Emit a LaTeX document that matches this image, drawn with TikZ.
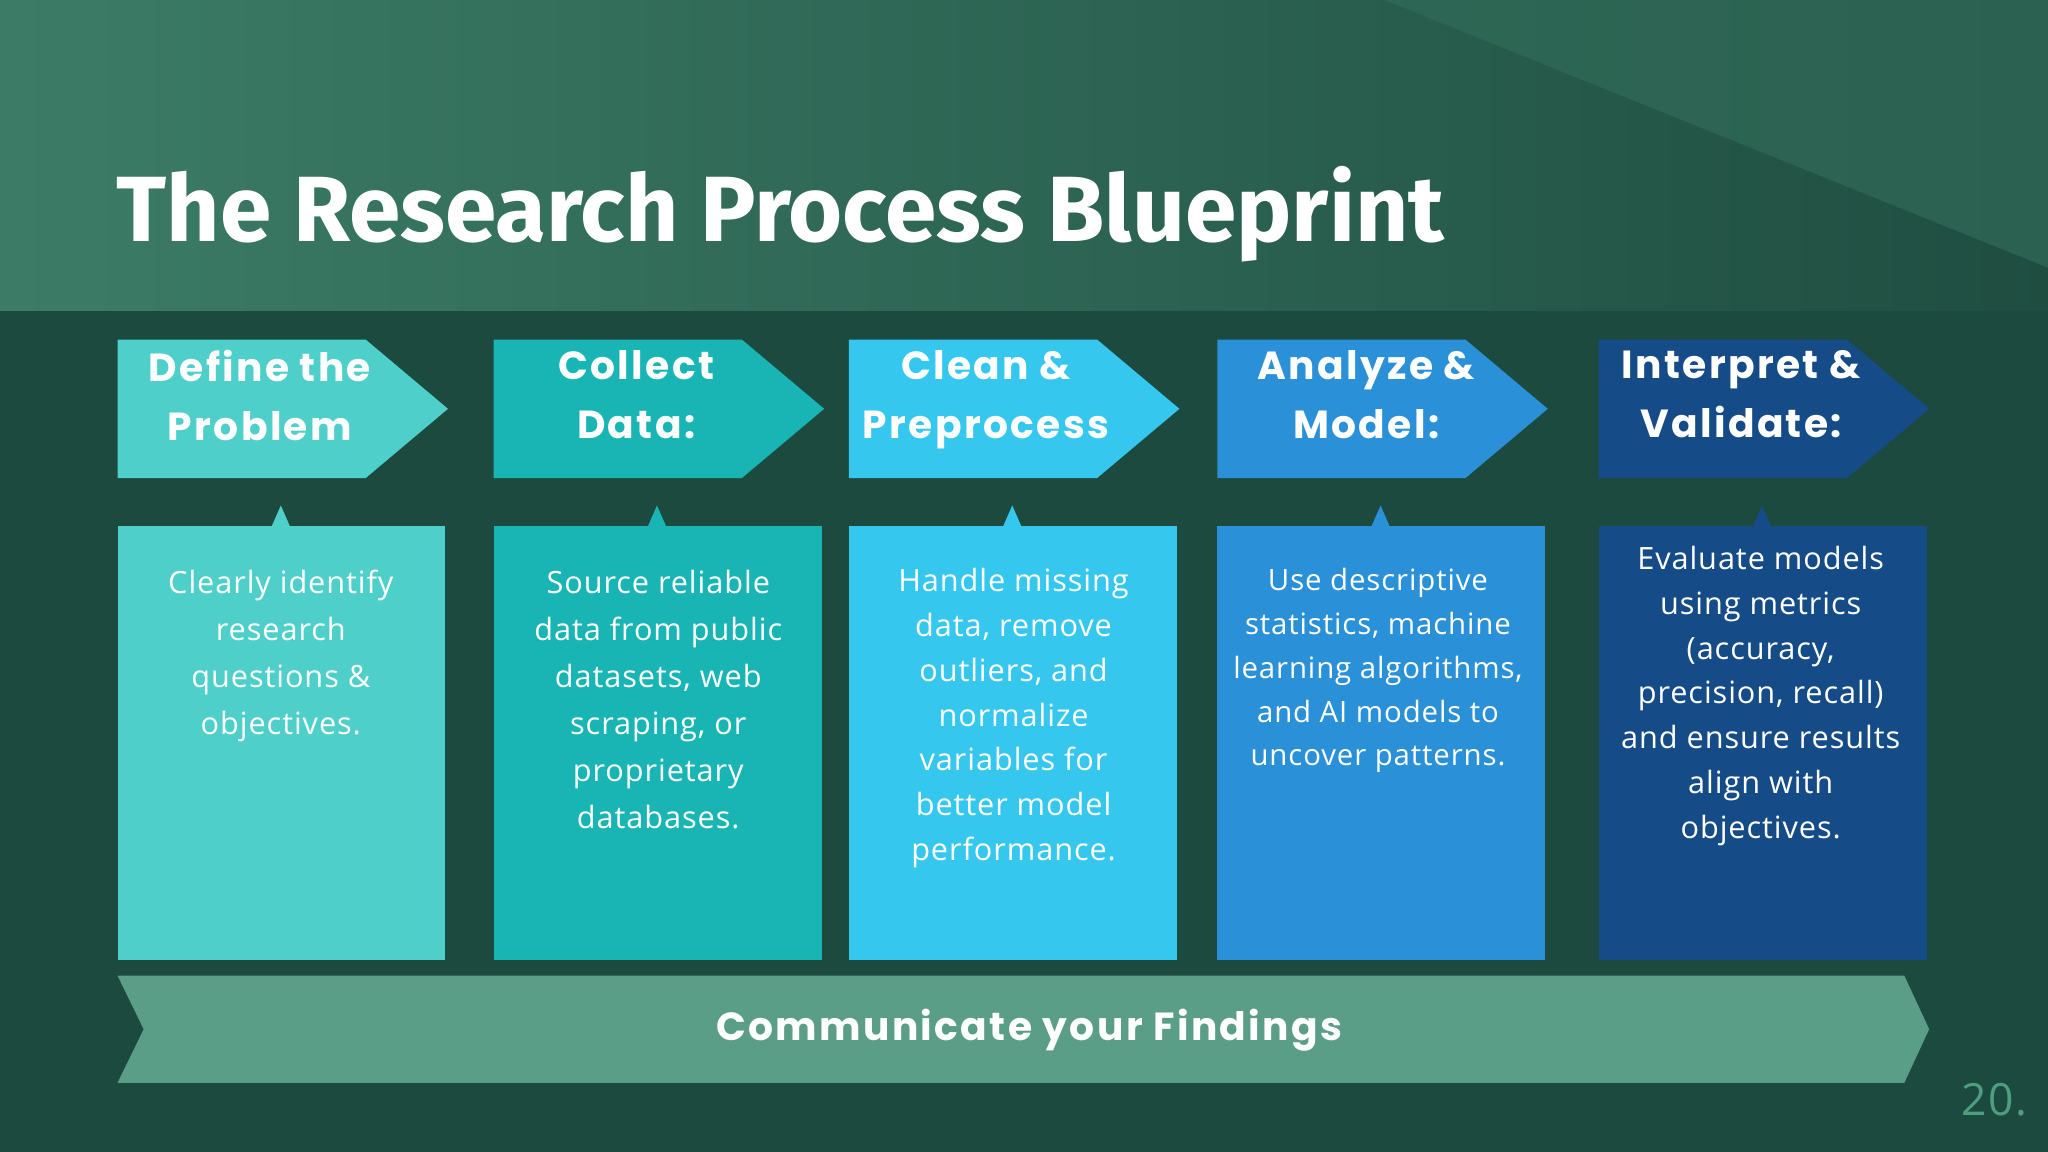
\documentclass[tikz,border=0pt]{standalone}
\usepackage{fontspec}
\setmainfont{Open Sans}[LetterSpace=3]
\newfontfamily\titlefont{Fira Sans}
\newfontfamily\headfont{Poppins}[LetterSpace=6]
\definecolor{bg}{HTML}{1D4A3E}
\definecolor{topl}{HTML}{3C7C66}
\definecolor{topr}{HTML}{1F4E41}
\definecolor{cA}{HTML}{4FCFC9}
\definecolor{cB}{HTML}{19B5B4}
\definecolor{cC}{HTML}{36C7EE}
\definecolor{cD}{HTML}{2A90D7}
\definecolor{cE}{HTML}{154C88}
\definecolor{band}{HTML}{5A9E88}
\definecolor{pnum}{HTML}{4E9E80}
\tikzset{x=1pt,y=-1pt,
  headtxt/.style={text=white,font=\headfont\bfseries\fontsize{30}{45}\selectfont,align=center,anchor=north,inner sep=0},
  bodytxt/.style={text=white,font=\fontsize{23.5}{34.3}\selectfont,align=center,anchor=north,inner sep=0}}
\begin{document}
\begin{tikzpicture}
\useasboundingbox (0,0) rectangle (1568,882);
\fill[bg] (0,0) rectangle (1568,882);
\shade[left color=topl,right color=topr] (0,0) rectangle (1568,238);
\fill[topl!70!topr,opacity=0.6] (1060,0) -- (1568,0) -- (1568,205) -- cycle;
\node[anchor=base west,inner sep=0,text=white,font=\titlefont\bfseries\fontsize{71}{80}\selectfont] (title) at (89,185) {The Research Process Blueprint};
\foreach \x/\c/\nx in {90/cA/215,378/cB/503,650/cC/775,932/cD/1057,1224/cE/1349}{
  \fill[\c] (\x,260) -- (\x+190,260) -- (\x+253,313) -- (\x+190,366) -- (\x,366) -- cycle;
  \fill[\c] (\x,403) rectangle (\x+251,735);
  \fill[\c] (\nx-7,403) -- (\nx,387) -- (\nx+7,403) -- cycle;
}
\node[headtxt] (ha) at (199,268) {Define the\\Problem};
\node[headtxt] (hb) at (487,268) {Collect\\Data:};
\node[headtxt] (hc) at (755,268) {Clean \&\\Preprocess};
\node[headtxt] (hd) at (1046,268) {Analyze \&\\Model:};
\node[headtxt] (he) at (1333,268) {Interpret \&\\Validate:};
\node[bodytxt,font=\fontsize{23.5}{36}\selectfont] (ba) at (215,436) {Clearly identify\\research\\questions \&\\objectives.};
\node[bodytxt,font=\fontsize{23.5}{36}\selectfont] (bb) at (504,436) {Source reliable\\data from public\\datasets, web\\scraping, or\\proprietary\\databases.};
\node[bodytxt] (bc) at (776,435) {Handle missing\\data, remove\\outliers, and\\normalize\\variables for\\better model\\performance.};
\node[bodytxt,font=\fontsize{22.5}{33.5}\selectfont] (bd) at (1055,435) {Use descriptive\\statistics, machine\\learning algorithms,\\and AI models to\\uncover patterns.};
\node[bodytxt] (be) at (1348,418) {Evaluate models\\using metrics\\(accuracy,\\precision, recall)\\and ensure results\\align with\\objectives.};
\fill[band] (90,747) -- (1458,747) -- (1477,788) -- (1458,829) -- (90,829) -- (110,788) -- cycle;
\node[text=white,font=\headfont\bfseries\fontsize{30}{36}\selectfont] (comm) at (788,789) {Communicate your Findings};
\node[anchor=base east,inner sep=0,text=pnum,font=\fontsize{34}{36}\selectfont] (pg) at (1552,854) {20.};
\end{tikzpicture}
\end{document}
